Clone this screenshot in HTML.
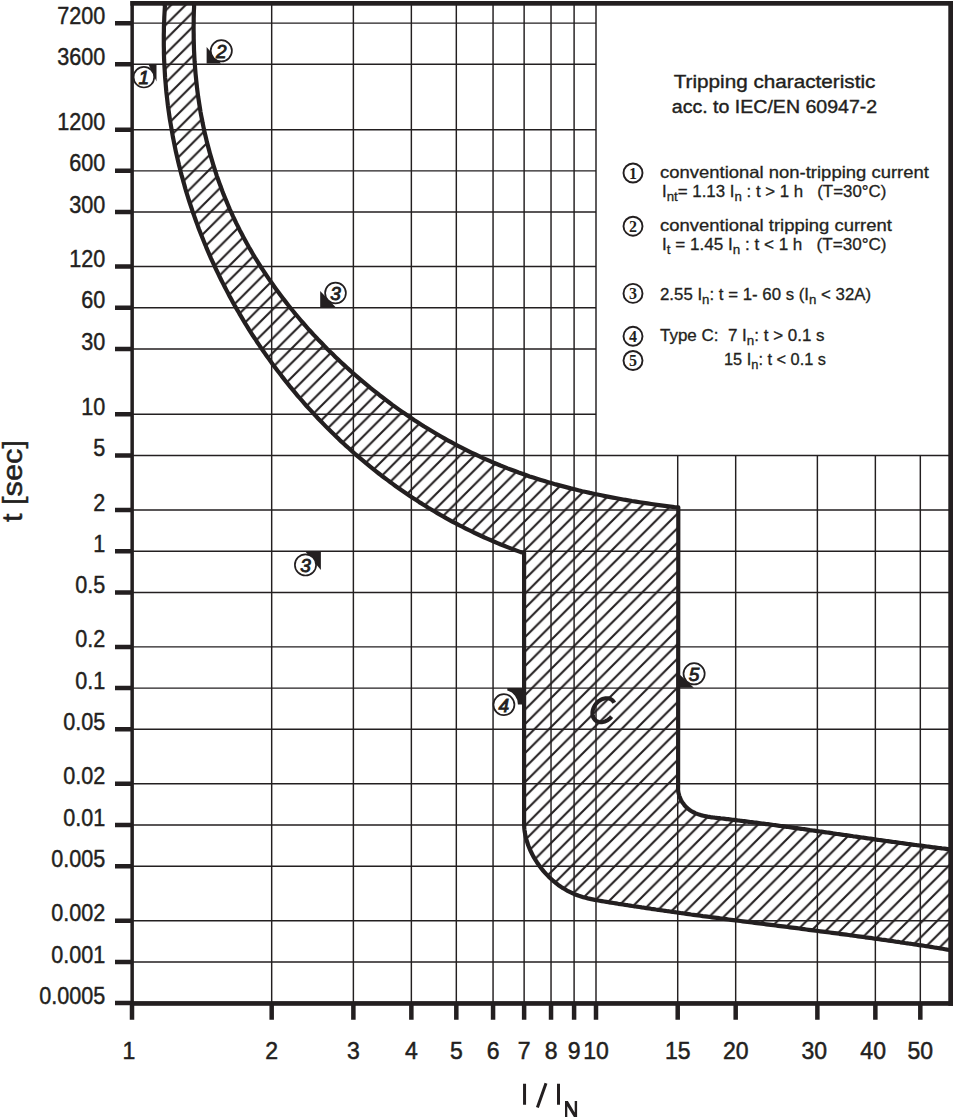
<!DOCTYPE html><html><head><meta charset="utf-8"><style>html,body{margin:0;padding:0;background:#fff;width:953px;height:1117px;overflow:hidden;position:relative}</style></head><body><svg width="953" height="1117" viewBox="0 0 953 1117" style="position:absolute;left:0;top:0">
<defs>
<pattern id="hatch" patternUnits="userSpaceOnUse" width="14.5" height="14.5" patternTransform="translate(2.1 0)">
<path d="M-3.625 3.625 L3.625 -3.625 M0 14.5 L14.5 0 M10.875 18.125 L18.125 10.875" stroke="#231f20" stroke-width="2.1" fill="none"/>
</pattern>
</defs>
<rect x="0" y="0" width="953" height="1117" fill="#fff"/>
<path d="M271.68 3.2 V1003.2 M353.38 3.2 V1003.2 M411.36 3.2 V1003.2 M456.32 3.2 V1003.2 M493.06 3.2 V1003.2 M524.13 3.2 V1003.2 M551.03 3.2 V1003.2 M574.10 3.2 V1003.2 M596.00 3.2 V1003.2 M677.71 455.51 V1003.2 M735.68 455.51 V1003.2 M817.38 455.51 V1003.2 M875.36 455.51 V1003.2 M920.32 455.51 V1003.2 M132.2 23.13 H596.00 M132.2 64.34 H596.00 M132.2 129.66 H596.00 M132.2 170.87 H596.00 M132.2 212.08 H596.00 M132.2 266.56 H596.00 M132.2 307.77 H596.00 M132.2 348.98 H596.00 M132.2 414.30 H596.00 M132.2 455.51 H950.7 M132.2 509.99 H950.7 M132.2 551.20 H950.7 M132.2 592.41 H950.7 M132.2 646.89 H950.7 M132.2 688.10 H950.7 M132.2 729.31 H950.7 M132.2 783.79 H950.7 M132.2 825.00 H950.7 M132.2 866.21 H950.7 M132.2 920.69 H950.7 M132.2 961.90 H950.7" stroke="#231f20" stroke-width="1.45" fill="none"/>
<path d="M164.2 3.0 164.9 6.4 164.7 9.9 164.5 13.5 164.3 17.0 164.2 20.6 164.0 24.2 163.9 27.7 163.9 31.3 163.8 34.8 163.8 38.4 163.8 41.9 163.8 45.5 163.9 49.0 163.9 52.6 164.0 56.1 164.1 59.7 164.3 63.2 164.5 66.8 164.7 70.3 164.9 73.8 165.1 77.4 165.4 80.9 165.7 84.4 166.0 88.0 166.3 91.5 166.7 95.0 167.1 98.5 167.5 102.0 167.9 105.5 168.4 109.1 168.9 112.6 169.4 116.1 169.9 119.6 170.5 123.0 171.1 126.5 171.7 130.0 172.3 133.5 172.9 137.0 173.6 140.4 174.3 143.9 175.0 147.4 175.7 150.8 176.5 154.3 177.3 157.7 178.1 161.2 178.9 164.6 179.8 168.0 180.6 171.5 181.5 174.9 182.5 178.3 183.4 181.7 184.4 185.1 185.3 188.5 186.3 191.9 187.4 195.3 188.4 198.6 189.5 202.0 190.6 205.4 191.7 208.7 192.8 212.1 194.0 215.4 195.2 218.7 196.4 222.1 197.6 225.4 198.8 228.7 200.1 232.0 201.4 235.3 202.7 238.6 204.0 241.8 205.4 245.1 206.7 248.4 208.1 251.6 209.5 254.9 210.9 258.1 212.4 261.3 213.9 264.5 215.3 267.8 216.9 271.0 218.4 274.1 219.9 277.3 221.5 280.5 223.1 283.6 224.7 286.8 226.3 289.9 228.0 293.1 229.6 296.2 231.3 299.3 233.0 302.4 234.7 305.5 236.5 308.6 238.3 311.6 240.0 314.7 241.8 317.7 243.7 320.8 245.5 323.8 247.4 326.8 249.2 329.8 251.1 332.8 253.0 335.8 255.0 338.7 256.9 341.7 258.9 344.6 260.9 347.6 262.9 350.5 264.9 353.4 266.9 356.3 269.0 359.1 271.1 362.0 273.2 364.9 275.3 367.7 277.4 370.5 279.6 373.3 281.7 376.1 283.9 378.9 286.1 381.7 288.3 384.4 290.5 387.2 292.8 389.9 295.1 392.6 297.3 395.3 299.6 398.0 302.0 400.7 304.3 403.4 306.6 406.0 309.0 408.6 311.4 411.2 313.8 413.8 316.2 416.4 318.6 419.0 321.1 421.5 323.6 424.1 326.0 426.6 328.5 429.1 331.0 431.6 333.6 434.1 336.1 436.5 338.7 438.9 341.2 441.4 343.8 443.8 346.4 446.2 349.1 448.5 351.7 450.9 354.3 453.2 357.0 455.6 359.7 457.9 362.4 460.1 365.1 462.4 367.8 464.7 370.5 466.9 373.3 469.1 376.1 471.3 378.8 473.5 381.6 475.7 384.4 477.8 387.3 479.9 390.1 482.0 393.0 484.1 395.8 486.2 398.7 488.2 401.6 490.3 404.5 492.3 407.4 494.3 410.3 496.3 413.3 498.2 416.2 500.1 419.2 502.1 422.2 503.9 425.2 505.8 428.2 507.7 431.2 509.5 434.3 511.3 437.3 513.1 440.4 514.9 443.5 516.6 446.5 518.4 449.6 520.1 452.7 521.8 455.9 523.4 459.0 525.1 462.2 526.7 465.3 528.3 468.5 529.9 471.7 531.4 474.9 533.0 478.1 534.5 481.3 536.0 484.5 537.5 487.7 538.9 491.0 540.3 494.3 541.7 497.5 543.1 500.8 544.5 504.1 545.8 507.4 547.1 510.7 548.4 514.1 549.7 517.4 550.9 520.7 552.1 524.1 552.7 L524.1 824.6 524.2 827.0 524.4 829.4 524.7 831.7 525.1 834.0 525.6 836.2 526.1 838.5 526.8 840.8 527.5 843.0 528.2 845.3 529.1 847.5 530.0 849.6 531.0 851.8 532.1 854.0 533.2 856.1 534.4 858.2 535.6 860.2 536.9 862.2 538.3 864.2 539.7 866.2 541.1 868.1 542.6 870.0 544.2 871.8 545.8 873.6 547.5 875.4 549.1 877.1 550.9 878.7 552.6 880.3 554.5 881.9 556.3 883.4 558.2 884.9 560.1 886.2 562.1 887.6 564.1 888.8 566.1 890.0 568.1 891.2 570.2 892.2 572.3 893.2 574.5 894.2 576.7 895.0 578.9 895.8 581.1 896.5 583.3 897.2 585.6 897.8 587.9 898.4 590.2 898.9 592.5 899.4 594.8 899.9 597.1 900.3 599.5 900.7 601.8 901.1 604.2 901.5 606.5 901.9 608.8 902.3 611.2 902.6 613.5 903.0 615.9 903.4 618.2 903.8 620.6 904.1 622.9 904.5 625.3 904.9 627.6 905.2 630.0 905.6 632.3 906.0 634.7 906.3 637.0 906.7 639.4 907.0 641.7 907.4 644.1 907.7 646.4 908.1 648.8 908.4 651.1 908.8 653.5 909.1 655.8 909.5 658.2 909.8 660.5 910.2 662.9 910.5 665.2 910.8 667.6 911.2 669.9 911.5 672.3 911.8 674.6 912.2 677.0 912.5 679.3 912.8 681.7 913.2 684.0 913.5 686.4 913.8 688.7 914.1 691.1 914.5 693.4 914.8 695.8 915.1 698.1 915.4 700.5 915.7 702.8 916.1 705.2 916.4 707.5 916.7 709.9 917.0 712.2 917.3 714.6 917.6 716.9 917.9 719.3 918.2 721.6 918.6 724.0 918.9 726.3 919.2 728.7 919.5 731.0 919.8 733.4 920.1 735.7 920.4 738.1 920.7 740.5 921.0 742.8 921.3 745.2 921.6 747.5 921.9 749.9 922.2 752.2 922.5 754.6 922.8 756.9 923.1 759.3 923.4 761.6 923.7 764.0 924.0 766.3 924.3 768.7 924.6 771.0 924.9 773.4 925.2 775.7 925.5 778.1 925.8 780.4 926.1 782.8 926.4 785.2 926.7 787.5 927.0 789.9 927.3 792.2 927.6 794.6 927.9 796.9 928.2 799.3 928.5 801.6 928.9 804.0 929.2 806.3 929.5 808.7 929.8 811.0 930.1 813.4 930.4 815.7 930.7 818.1 931.0 820.4 931.3 822.8 931.6 825.1 931.9 827.5 932.2 829.8 932.5 832.2 932.8 834.5 933.1 836.9 933.4 839.3 933.8 841.6 934.1 844.0 934.4 846.3 934.7 848.7 935.0 851.0 935.3 853.4 935.7 855.7 936.0 858.1 936.3 860.4 936.6 862.8 936.9 865.1 937.3 867.5 937.6 869.8 937.9 872.2 938.2 874.5 938.6 876.9 938.9 879.2 939.2 881.6 939.6 883.9 939.9 886.3 940.2 888.6 940.6 891.0 940.9 893.3 941.2 895.6 941.6 898.0 941.9 900.3 942.3 902.7 942.6 905.0 943.0 907.4 943.3 909.7 943.7 912.1 944.0 914.4 944.4 916.8 944.7 919.1 945.1 921.5 945.4 923.8 945.8 926.2 946.2 928.5 946.5 930.9 946.9 933.2 947.3 935.5 947.7 937.9 948.0 940.2 948.4 942.6 948.8 944.9 949.2 947.3 949.6 949.6 949.9 952.0 949.9 L952.0 849.3 950.6 849.4 949.1 849.3 947.7 849.1 946.2 848.9 944.7 848.7 943.2 848.5 941.8 848.4 940.3 848.2 938.8 848.0 937.4 847.8 935.9 847.6 934.4 847.4 933.0 847.3 931.5 847.1 930.0 846.9 928.6 846.7 927.1 846.5 925.7 846.3 924.2 846.1 922.7 845.9 921.3 845.7 919.8 845.5 918.4 845.3 916.9 845.2 915.4 845.0 914.0 844.8 912.5 844.6 911.1 844.4 909.6 844.2 908.2 844.0 906.7 843.8 905.3 843.6 903.8 843.4 902.4 843.2 900.9 843.0 899.5 842.8 898.0 842.6 896.6 842.4 895.1 842.2 893.7 842.0 892.2 841.8 890.8 841.6 889.3 841.4 887.9 841.2 886.4 841.0 885.0 840.8 883.5 840.6 882.1 840.4 880.6 840.2 879.2 840.0 877.7 839.8 876.3 839.6 874.8 839.4 873.4 839.1 871.9 838.9 870.5 838.7 869.1 838.5 867.6 838.3 866.2 838.1 864.7 837.9 863.3 837.7 861.8 837.5 860.4 837.3 859.0 837.1 857.5 836.9 856.1 836.7 854.6 836.5 853.2 836.3 851.7 836.0 850.3 835.8 848.9 835.6 847.4 835.4 846.0 835.2 844.5 835.0 843.1 834.8 841.6 834.6 840.2 834.4 838.8 834.2 837.3 834.0 835.9 833.8 834.4 833.6 833.0 833.4 831.5 833.1 830.1 832.9 828.7 832.7 827.2 832.5 825.8 832.3 824.3 832.1 822.9 831.9 821.4 831.7 820.0 831.5 818.6 831.3 817.1 831.1 815.7 830.9 814.2 830.7 812.8 830.5 811.3 830.3 809.9 830.1 808.4 829.8 807.0 829.6 805.5 829.4 804.1 829.2 802.7 829.0 801.2 828.8 799.8 828.6 798.3 828.4 796.9 828.2 795.4 828.0 794.0 827.8 792.5 827.6 791.1 827.4 789.6 827.2 788.2 827.0 786.7 826.8 785.3 826.6 783.8 826.4 782.4 826.2 780.9 826.0 779.4 825.8 778.0 825.6 776.5 825.4 775.1 825.2 773.6 825.0 772.2 824.8 770.7 824.6 769.3 824.4 767.8 824.2 766.3 824.1 764.9 823.9 763.4 823.7 762.0 823.5 760.5 823.3 759.0 823.1 757.6 822.9 756.1 822.7 754.6 822.5 753.2 822.3 751.7 822.1 750.2 822.0 748.8 821.8 747.3 821.6 745.8 821.4 744.4 821.2 742.9 821.0 741.4 820.8 740.0 820.7 738.5 820.5 737.0 820.3 735.5 820.1 734.1 819.9 732.6 819.8 731.1 819.6 729.6 819.4 728.2 819.2 726.7 819.1 725.2 818.9 723.7 818.7 722.2 818.5 720.7 818.4 719.3 818.2 717.8 818.0 716.3 817.8 714.8 817.7 713.3 817.5 711.9 817.3 710.4 817.1 708.9 816.8 707.5 816.6 706.1 816.3 704.6 816.0 703.2 815.7 701.9 815.4 700.5 815.0 699.1 814.6 697.8 814.1 696.5 813.6 695.2 813.1 694.0 812.5 692.8 811.9 691.6 811.2 690.4 810.4 689.3 809.7 688.2 808.8 687.1 807.9 686.1 806.9 685.1 805.9 684.2 804.8 683.3 803.6 682.4 802.4 681.7 801.2 681.0 799.9 680.3 798.5 679.7 797.1 679.2 795.6 678.8 794.1 678.4 792.5 678.2 790.9 678.0 789.2 678.1 788.0 L678.3 507.3 674.4 507.1 670.5 506.6 666.7 506.1 662.8 505.6 659.0 505.1 655.1 504.5 651.3 504.0 647.4 503.4 643.6 502.8 639.7 502.2 635.9 501.6 632.0 501.0 628.2 500.3 624.3 499.7 620.5 499.0 616.6 498.3 612.8 497.6 609.0 496.9 605.1 496.1 601.3 495.3 597.5 494.5 593.7 493.7 589.8 492.9 586.0 492.0 582.2 491.2 578.4 490.3 574.6 489.3 570.8 488.4 567.0 487.4 563.3 486.4 559.5 485.4 555.7 484.4 552.0 483.3 548.2 482.2 544.5 481.1 540.8 480.0 537.0 478.8 533.3 477.6 529.6 476.4 525.9 475.1 522.3 473.8 518.6 472.5 514.9 471.1 511.3 469.8 507.6 468.4 504.0 466.9 500.4 465.5 496.8 464.0 493.2 462.5 489.6 460.9 486.1 459.4 482.5 457.8 479.0 456.1 475.5 454.5 471.9 452.8 468.4 451.1 465.0 449.4 461.5 447.6 458.0 445.8 454.6 444.0 451.2 442.2 447.7 440.3 444.3 438.4 441.0 436.5 437.6 434.5 434.2 432.5 430.9 430.5 427.6 428.5 424.2 426.5 421.0 424.4 417.7 422.3 414.4 420.2 411.2 418.0 407.9 415.8 404.7 413.6 401.5 411.4 398.3 409.1 395.2 406.9 392.0 404.6 388.9 402.2 385.8 399.9 382.7 397.5 379.6 395.2 376.5 392.7 373.5 390.3 370.4 387.9 367.4 385.4 364.4 382.9 361.4 380.4 358.5 377.9 355.5 375.3 352.6 372.7 349.7 370.1 346.8 367.5 343.9 364.9 341.0 362.2 338.2 359.6 335.4 356.9 332.6 354.1 329.8 351.4 327.0 348.7 324.3 345.9 321.6 343.1 318.8 340.3 316.2 337.4 313.5 334.6 310.9 331.7 308.2 328.8 305.6 325.9 303.1 323.0 300.5 320.0 298.0 317.0 295.5 314.1 293.0 311.0 290.5 308.0 288.1 305.0 285.7 301.9 283.3 298.8 281.0 295.7 278.6 292.6 276.3 289.5 274.0 286.3 271.8 283.1 269.5 279.9 267.3 276.7 265.2 273.5 263.0 270.2 260.9 267.0 258.8 263.7 256.8 260.4 254.7 257.1 252.7 253.7 250.8 250.4 248.8 247.0 246.9 243.6 245.1 240.2 243.2 236.8 241.4 233.3 239.6 229.9 237.9 226.4 236.1 222.9 234.5 219.4 232.8 215.9 231.2 212.3 229.6 208.8 228.1 205.2 226.6 201.6 225.1 198.0 223.6 194.4 222.2 190.8 220.9 187.1 219.5 183.4 218.2 179.8 216.9 176.1 215.7 172.4 214.5 168.7 213.3 164.9 212.2 161.2 211.1 157.4 210.0 153.7 209.0 149.9 208.0 146.1 207.0 142.4 206.1 138.6 205.2 134.8 204.3 130.9 203.5 127.1 202.7 123.3 202.0 119.5 201.2 115.6 200.5 111.8 199.9 107.9 199.3 104.1 198.7 100.2 198.1 96.4 197.6 92.5 197.1 88.6 196.7 84.8 196.3 80.9 195.9 77.0 195.5 73.1 195.2 69.2 194.9 65.4 194.6 61.5 194.4 57.6 194.2 53.7 194.0 49.8 193.9 45.9 193.8 42.0 193.7 38.1 193.7 34.2 193.6 30.3 193.6 26.4 193.7 22.5 193.7 18.6 193.8 14.7 193.9 10.8 194.1 6.9 194.0 3.0 Z" fill="url(#hatch)" stroke="none"/>
<path d="M164.2 3.0 164.9 6.4 164.7 9.9 164.5 13.5 164.3 17.0 164.2 20.6 164.0 24.2 163.9 27.7 163.9 31.3 163.8 34.8 163.8 38.4 163.8 41.9 163.8 45.5 163.9 49.0 163.9 52.6 164.0 56.1 164.1 59.7 164.3 63.2 164.5 66.8 164.7 70.3 164.9 73.8 165.1 77.4 165.4 80.9 165.7 84.4 166.0 88.0 166.3 91.5 166.7 95.0 167.1 98.5 167.5 102.0 167.9 105.5 168.4 109.1 168.9 112.6 169.4 116.1 169.9 119.6 170.5 123.0 171.1 126.5 171.7 130.0 172.3 133.5 172.9 137.0 173.6 140.4 174.3 143.9 175.0 147.4 175.7 150.8 176.5 154.3 177.3 157.7 178.1 161.2 178.9 164.6 179.8 168.0 180.6 171.5 181.5 174.9 182.5 178.3 183.4 181.7 184.4 185.1 185.3 188.5 186.3 191.9 187.4 195.3 188.4 198.6 189.5 202.0 190.6 205.4 191.7 208.7 192.8 212.1 194.0 215.4 195.2 218.7 196.4 222.1 197.6 225.4 198.8 228.7 200.1 232.0 201.4 235.3 202.7 238.6 204.0 241.8 205.4 245.1 206.7 248.4 208.1 251.6 209.5 254.9 210.9 258.1 212.4 261.3 213.9 264.5 215.3 267.8 216.9 271.0 218.4 274.1 219.9 277.3 221.5 280.5 223.1 283.6 224.7 286.8 226.3 289.9 228.0 293.1 229.6 296.2 231.3 299.3 233.0 302.4 234.7 305.5 236.5 308.6 238.3 311.6 240.0 314.7 241.8 317.7 243.7 320.8 245.5 323.8 247.4 326.8 249.2 329.8 251.1 332.8 253.0 335.8 255.0 338.7 256.9 341.7 258.9 344.6 260.9 347.6 262.9 350.5 264.9 353.4 266.9 356.3 269.0 359.1 271.1 362.0 273.2 364.9 275.3 367.7 277.4 370.5 279.6 373.3 281.7 376.1 283.9 378.9 286.1 381.7 288.3 384.4 290.5 387.2 292.8 389.9 295.1 392.6 297.3 395.3 299.6 398.0 302.0 400.7 304.3 403.4 306.6 406.0 309.0 408.6 311.4 411.2 313.8 413.8 316.2 416.4 318.6 419.0 321.1 421.5 323.6 424.1 326.0 426.6 328.5 429.1 331.0 431.6 333.6 434.1 336.1 436.5 338.7 438.9 341.2 441.4 343.8 443.8 346.4 446.2 349.1 448.5 351.7 450.9 354.3 453.2 357.0 455.6 359.7 457.9 362.4 460.1 365.1 462.4 367.8 464.7 370.5 466.9 373.3 469.1 376.1 471.3 378.8 473.5 381.6 475.7 384.4 477.8 387.3 479.9 390.1 482.0 393.0 484.1 395.8 486.2 398.7 488.2 401.6 490.3 404.5 492.3 407.4 494.3 410.3 496.3 413.3 498.2 416.2 500.1 419.2 502.1 422.2 503.9 425.2 505.8 428.2 507.7 431.2 509.5 434.3 511.3 437.3 513.1 440.4 514.9 443.5 516.6 446.5 518.4 449.6 520.1 452.7 521.8 455.9 523.4 459.0 525.1 462.2 526.7 465.3 528.3 468.5 529.9 471.7 531.4 474.9 533.0 478.1 534.5 481.3 536.0 484.5 537.5 487.7 538.9 491.0 540.3 494.3 541.7 497.5 543.1 500.8 544.5 504.1 545.8 507.4 547.1 510.7 548.4 514.1 549.7 517.4 550.9 520.7 552.1 524.1 552.7 L524.1 824.6 524.2 827.0 524.4 829.4 524.7 831.7 525.1 834.0 525.6 836.2 526.1 838.5 526.8 840.8 527.5 843.0 528.2 845.3 529.1 847.5 530.0 849.6 531.0 851.8 532.1 854.0 533.2 856.1 534.4 858.2 535.6 860.2 536.9 862.2 538.3 864.2 539.7 866.2 541.1 868.1 542.6 870.0 544.2 871.8 545.8 873.6 547.5 875.4 549.1 877.1 550.9 878.7 552.6 880.3 554.5 881.9 556.3 883.4 558.2 884.9 560.1 886.2 562.1 887.6 564.1 888.8 566.1 890.0 568.1 891.2 570.2 892.2 572.3 893.2 574.5 894.2 576.7 895.0 578.9 895.8 581.1 896.5 583.3 897.2 585.6 897.8 587.9 898.4 590.2 898.9 592.5 899.4 594.8 899.9 597.1 900.3 599.5 900.7 601.8 901.1 604.2 901.5 606.5 901.9 608.8 902.3 611.2 902.6 613.5 903.0 615.9 903.4 618.2 903.8 620.6 904.1 622.9 904.5 625.3 904.9 627.6 905.2 630.0 905.6 632.3 906.0 634.7 906.3 637.0 906.7 639.4 907.0 641.7 907.4 644.1 907.7 646.4 908.1 648.8 908.4 651.1 908.8 653.5 909.1 655.8 909.5 658.2 909.8 660.5 910.2 662.9 910.5 665.2 910.8 667.6 911.2 669.9 911.5 672.3 911.8 674.6 912.2 677.0 912.5 679.3 912.8 681.7 913.2 684.0 913.5 686.4 913.8 688.7 914.1 691.1 914.5 693.4 914.8 695.8 915.1 698.1 915.4 700.5 915.7 702.8 916.1 705.2 916.4 707.5 916.7 709.9 917.0 712.2 917.3 714.6 917.6 716.9 917.9 719.3 918.2 721.6 918.6 724.0 918.9 726.3 919.2 728.7 919.5 731.0 919.8 733.4 920.1 735.7 920.4 738.1 920.7 740.5 921.0 742.8 921.3 745.2 921.6 747.5 921.9 749.9 922.2 752.2 922.5 754.6 922.8 756.9 923.1 759.3 923.4 761.6 923.7 764.0 924.0 766.3 924.3 768.7 924.6 771.0 924.9 773.4 925.2 775.7 925.5 778.1 925.8 780.4 926.1 782.8 926.4 785.2 926.7 787.5 927.0 789.9 927.3 792.2 927.6 794.6 927.9 796.9 928.2 799.3 928.5 801.6 928.9 804.0 929.2 806.3 929.5 808.7 929.8 811.0 930.1 813.4 930.4 815.7 930.7 818.1 931.0 820.4 931.3 822.8 931.6 825.1 931.9 827.5 932.2 829.8 932.5 832.2 932.8 834.5 933.1 836.9 933.4 839.3 933.8 841.6 934.1 844.0 934.4 846.3 934.7 848.7 935.0 851.0 935.3 853.4 935.7 855.7 936.0 858.1 936.3 860.4 936.6 862.8 936.9 865.1 937.3 867.5 937.6 869.8 937.9 872.2 938.2 874.5 938.6 876.9 938.9 879.2 939.2 881.6 939.6 883.9 939.9 886.3 940.2 888.6 940.6 891.0 940.9 893.3 941.2 895.6 941.6 898.0 941.9 900.3 942.3 902.7 942.6 905.0 943.0 907.4 943.3 909.7 943.7 912.1 944.0 914.4 944.4 916.8 944.7 919.1 945.1 921.5 945.4 923.8 945.8 926.2 946.2 928.5 946.5 930.9 946.9 933.2 947.3 935.5 947.7 937.9 948.0 940.2 948.4 942.6 948.8 944.9 949.2 947.3 949.6 949.6 949.9 952.0 949.9" fill="none" stroke="#231f20" stroke-width="4.2" stroke-linejoin="round"/>
<path d="M194.0 3.0 194.1 6.9 193.9 10.8 193.8 14.7 193.7 18.6 193.7 22.5 193.6 26.4 193.6 30.3 193.7 34.2 193.7 38.1 193.8 42.0 193.9 45.9 194.0 49.8 194.2 53.7 194.4 57.6 194.6 61.5 194.9 65.4 195.2 69.2 195.5 73.1 195.9 77.0 196.3 80.9 196.7 84.8 197.1 88.6 197.6 92.5 198.1 96.4 198.7 100.2 199.3 104.1 199.9 107.9 200.5 111.8 201.2 115.6 202.0 119.5 202.7 123.3 203.5 127.1 204.3 130.9 205.2 134.8 206.1 138.6 207.0 142.4 208.0 146.1 209.0 149.9 210.0 153.7 211.1 157.4 212.2 161.2 213.3 164.9 214.5 168.7 215.7 172.4 216.9 176.1 218.2 179.8 219.5 183.4 220.9 187.1 222.2 190.8 223.6 194.4 225.1 198.0 226.6 201.6 228.1 205.2 229.6 208.8 231.2 212.3 232.8 215.9 234.5 219.4 236.1 222.9 237.9 226.4 239.6 229.9 241.4 233.3 243.2 236.8 245.1 240.2 246.9 243.6 248.8 247.0 250.8 250.4 252.7 253.7 254.7 257.1 256.8 260.4 258.8 263.7 260.9 267.0 263.0 270.2 265.2 273.5 267.3 276.7 269.5 279.9 271.8 283.1 274.0 286.3 276.3 289.5 278.6 292.6 281.0 295.7 283.3 298.8 285.7 301.9 288.1 305.0 290.5 308.0 293.0 311.0 295.5 314.1 298.0 317.0 300.5 320.0 303.1 323.0 305.6 325.9 308.2 328.8 310.9 331.7 313.5 334.6 316.2 337.4 318.8 340.3 321.6 343.1 324.3 345.9 327.0 348.7 329.8 351.4 332.6 354.1 335.4 356.9 338.2 359.6 341.0 362.2 343.9 364.9 346.8 367.5 349.7 370.1 352.6 372.7 355.5 375.3 358.5 377.9 361.4 380.4 364.4 382.9 367.4 385.4 370.4 387.9 373.5 390.3 376.5 392.7 379.6 395.2 382.7 397.5 385.8 399.9 388.9 402.2 392.0 404.6 395.2 406.9 398.3 409.1 401.5 411.4 404.7 413.6 407.9 415.8 411.2 418.0 414.4 420.2 417.7 422.3 421.0 424.4 424.2 426.5 427.6 428.5 430.9 430.5 434.2 432.5 437.6 434.5 441.0 436.5 444.3 438.4 447.7 440.3 451.2 442.2 454.6 444.0 458.0 445.8 461.5 447.6 465.0 449.4 468.4 451.1 471.9 452.8 475.5 454.5 479.0 456.1 482.5 457.8 486.1 459.4 489.6 460.9 493.2 462.5 496.8 464.0 500.4 465.5 504.0 466.9 507.6 468.4 511.3 469.8 514.9 471.1 518.6 472.5 522.3 473.8 525.9 475.1 529.6 476.4 533.3 477.6 537.0 478.8 540.8 480.0 544.5 481.1 548.2 482.2 552.0 483.3 555.7 484.4 559.5 485.4 563.3 486.4 567.0 487.4 570.8 488.4 574.6 489.3 578.4 490.3 582.2 491.2 586.0 492.0 589.8 492.9 593.7 493.7 597.5 494.5 601.3 495.3 605.1 496.1 609.0 496.9 612.8 497.6 616.6 498.3 620.5 499.0 624.3 499.7 628.2 500.3 632.0 501.0 635.9 501.6 639.7 502.2 643.6 502.8 647.4 503.4 651.3 504.0 655.1 504.5 659.0 505.1 662.8 505.6 666.7 506.1 670.5 506.6 674.4 507.1 678.3 507.3 L678.1 788.0 678.0 789.2 678.2 790.9 678.4 792.5 678.8 794.1 679.2 795.6 679.7 797.1 680.3 798.5 681.0 799.9 681.7 801.2 682.4 802.4 683.3 803.6 684.2 804.8 685.1 805.9 686.1 806.9 687.1 807.9 688.2 808.8 689.3 809.7 690.4 810.4 691.6 811.2 692.8 811.9 694.0 812.5 695.2 813.1 696.5 813.6 697.8 814.1 699.1 814.6 700.5 815.0 701.9 815.4 703.2 815.7 704.6 816.0 706.1 816.3 707.5 816.6 708.9 816.8 710.4 817.1 711.9 817.3 713.3 817.5 714.8 817.7 716.3 817.8 717.8 818.0 719.3 818.2 720.7 818.4 722.2 818.5 723.7 818.7 725.2 818.9 726.7 819.1 728.2 819.2 729.6 819.4 731.1 819.6 732.6 819.8 734.1 819.9 735.5 820.1 737.0 820.3 738.5 820.5 740.0 820.7 741.4 820.8 742.9 821.0 744.4 821.2 745.8 821.4 747.3 821.6 748.8 821.8 750.2 822.0 751.7 822.1 753.2 822.3 754.6 822.5 756.1 822.7 757.6 822.9 759.0 823.1 760.5 823.3 762.0 823.5 763.4 823.7 764.9 823.9 766.3 824.1 767.8 824.2 769.3 824.4 770.7 824.6 772.2 824.8 773.6 825.0 775.1 825.2 776.5 825.4 778.0 825.6 779.4 825.8 780.9 826.0 782.4 826.2 783.8 826.4 785.3 826.6 786.7 826.8 788.2 827.0 789.6 827.2 791.1 827.4 792.5 827.6 794.0 827.8 795.4 828.0 796.9 828.2 798.3 828.4 799.8 828.6 801.2 828.8 802.7 829.0 804.1 829.2 805.5 829.4 807.0 829.6 808.4 829.8 809.9 830.1 811.3 830.3 812.8 830.5 814.2 830.7 815.7 830.9 817.1 831.1 818.6 831.3 820.0 831.5 821.4 831.7 822.9 831.9 824.3 832.1 825.8 832.3 827.2 832.5 828.7 832.7 830.1 832.9 831.5 833.1 833.0 833.4 834.4 833.6 835.9 833.8 837.3 834.0 838.8 834.2 840.2 834.4 841.6 834.6 843.1 834.8 844.5 835.0 846.0 835.2 847.4 835.4 848.9 835.6 850.3 835.8 851.7 836.0 853.2 836.3 854.6 836.5 856.1 836.7 857.5 836.9 859.0 837.1 860.4 837.3 861.8 837.5 863.3 837.7 864.7 837.9 866.2 838.1 867.6 838.3 869.1 838.5 870.5 838.7 871.9 838.9 873.4 839.1 874.8 839.4 876.3 839.6 877.7 839.8 879.2 840.0 880.6 840.2 882.1 840.4 883.5 840.6 885.0 840.8 886.4 841.0 887.9 841.2 889.3 841.4 890.8 841.6 892.2 841.8 893.7 842.0 895.1 842.2 896.6 842.4 898.0 842.6 899.5 842.8 900.9 843.0 902.4 843.2 903.8 843.4 905.3 843.6 906.7 843.8 908.2 844.0 909.6 844.2 911.1 844.4 912.5 844.6 914.0 844.8 915.4 845.0 916.9 845.2 918.4 845.3 919.8 845.5 921.3 845.7 922.7 845.9 924.2 846.1 925.7 846.3 927.1 846.5 928.6 846.7 930.0 846.9 931.5 847.1 933.0 847.3 934.4 847.4 935.9 847.6 937.4 847.8 938.8 848.0 940.3 848.2 941.8 848.4 943.2 848.5 944.7 848.7 946.2 848.9 947.7 849.1 949.1 849.3 950.6 849.4 952.0 849.3" fill="none" stroke="#231f20" stroke-width="4.2" stroke-linejoin="round"/>
<rect x="130.4" y="1.0" width="822.6" height="4.7" fill="#231f20"/><rect x="130.4" y="1.0" width="3.5" height="1004.8" fill="#231f20"/><rect x="948.3" y="1.0" width="4.7" height="1004.8" fill="#231f20"/><rect x="130.4" y="1001.1" width="822.6" height="4.7" fill="#231f20"/>
<path d="M115 23.13 H132.2 M115 64.34 H132.2 M115 129.66 H132.2 M115 170.87 H132.2 M115 212.08 H132.2 M115 266.56 H132.2 M115 307.77 H132.2 M115 348.98 H132.2 M115 414.30 H132.2 M115 455.51 H132.2 M115 509.99 H132.2 M115 551.20 H132.2 M115 592.41 H132.2 M115 646.89 H132.2 M115 688.10 H132.2 M115 729.31 H132.2 M115 783.79 H132.2 M115 825.00 H132.2 M115 866.21 H132.2 M115 920.69 H132.2 M115 961.90 H132.2 M115 1003.11 H132.2 M132.00 1003.2 V1019.8 M271.68 1003.2 V1019.8 M353.38 1003.2 V1019.8 M411.36 1003.2 V1019.8 M456.32 1003.2 V1019.8 M493.06 1003.2 V1019.8 M524.13 1003.2 V1019.8 M551.03 1003.2 V1019.8 M574.10 1003.2 V1019.8 M596.00 1003.2 V1019.8 M677.71 1003.2 V1019.8 M735.68 1003.2 V1019.8 M817.38 1003.2 V1019.8 M875.36 1003.2 V1019.8 M920.32 1003.2 V1019.8" stroke="#231f20" stroke-width="4.5" fill="none"/>
<g font-family="Liberation Sans, sans-serif" font-size="23.5" fill="#231f20" stroke="#231f20" stroke-width="0.45"><text transform="translate(105.3 23.73) scale(0.92 1)" text-anchor="end">7200</text><text transform="translate(105.3 64.94) scale(0.92 1)" text-anchor="end">3600</text><text transform="translate(105.3 130.26) scale(0.92 1)" text-anchor="end">1200</text><text transform="translate(105.3 171.47) scale(0.92 1)" text-anchor="end">600</text><text transform="translate(105.3 212.68) scale(0.92 1)" text-anchor="end">300</text><text transform="translate(105.3 267.16) scale(0.92 1)" text-anchor="end">120</text><text transform="translate(105.3 308.37) scale(0.92 1)" text-anchor="end">60</text><text transform="translate(105.3 349.58) scale(0.92 1)" text-anchor="end">30</text><text transform="translate(105.3 414.90) scale(0.92 1)" text-anchor="end">10</text><text transform="translate(105.3 456.11) scale(0.92 1)" text-anchor="end">5</text><text transform="translate(105.3 510.59) scale(0.92 1)" text-anchor="end">2</text><text transform="translate(105.3 551.80) scale(0.92 1)" text-anchor="end">1</text><text transform="translate(105.3 593.01) scale(0.92 1)" text-anchor="end">0.5</text><text transform="translate(105.3 647.49) scale(0.92 1)" text-anchor="end">0.2</text><text transform="translate(105.3 688.70) scale(0.92 1)" text-anchor="end">0.1</text><text transform="translate(105.3 729.91) scale(0.92 1)" text-anchor="end">0.05</text><text transform="translate(105.3 784.39) scale(0.92 1)" text-anchor="end">0.02</text><text transform="translate(105.3 825.60) scale(0.92 1)" text-anchor="end">0.01</text><text transform="translate(105.3 866.81) scale(0.92 1)" text-anchor="end">0.005</text><text transform="translate(105.3 921.29) scale(0.92 1)" text-anchor="end">0.002</text><text transform="translate(105.3 962.50) scale(0.92 1)" text-anchor="end">0.001</text><text transform="translate(105.3 1003.71) scale(0.92 1)" text-anchor="end">0.0005</text></g>
<g font-family="Liberation Sans, sans-serif" font-size="23" fill="#231f20" stroke="#231f20" stroke-width="0.5"><text x="129.00" y="1058.6" text-anchor="middle">1</text><text x="271.68" y="1058.6" text-anchor="middle">2</text><text x="353.38" y="1058.6" text-anchor="middle">3</text><text x="411.36" y="1058.6" text-anchor="middle">4</text><text x="456.32" y="1058.6" text-anchor="middle">5</text><text x="493.06" y="1058.6" text-anchor="middle">6</text><text x="524.13" y="1058.6" text-anchor="middle">7</text><text x="551.03" y="1058.6" text-anchor="middle">8</text><text x="574.10" y="1058.6" text-anchor="middle">9</text><text x="596.00" y="1058.6" text-anchor="middle">10</text><text x="677.71" y="1058.6" text-anchor="middle">15</text><text x="735.68" y="1058.6" text-anchor="middle">20</text><text x="814.18" y="1058.6" text-anchor="middle">30</text><text x="873.16" y="1058.6" text-anchor="middle">40</text><text x="920.32" y="1058.6" text-anchor="middle">50</text></g>
<text transform="translate(22 522) rotate(-90)" font-family="Liberation Sans, sans-serif" font-size="28" fill="#231f20" stroke="#231f20" stroke-width="0.5" textLength="82" lengthAdjust="spacingAndGlyphs">t [sec]</text>
<path d="M524.55 1083.8 V1104.8 M546 1083.2 L537.4 1107.6 M558.5 1083.8 V1104.8 " fill="none" stroke="#231f20" stroke-width="3"/><path d="M565 1118 V1101.1 H567.9 L574.7 1112.6 V1101.1 H577.1 V1118 H574.5 L567.3 1106.2 V1118 Z" fill="#231f20"/>
<path d="M148.3 64 H156.5 V81.6 Z" fill="#231f20"/><circle cx="143.9" cy="77.2" r="10.3" fill="#fff" stroke="#231f20" stroke-width="1.7"/><text x="143.9" y="84.2" text-anchor="middle" font-family="Liberation Sans, sans-serif" font-style="italic" font-size="19" fill="#231f20" stroke="#231f20" stroke-width="0.9">1</text>
<path d="M206.6 47 V63.6 H221 Z" fill="#231f20"/><circle cx="221.3" cy="50.8" r="10.6" fill="#fff" stroke="#231f20" stroke-width="1.7"/><text x="221.3" y="57.8" text-anchor="middle" font-family="Liberation Sans, sans-serif" font-style="italic" font-size="19" fill="#231f20" stroke="#231f20" stroke-width="0.9">2</text>
<path d="M320.2 291 V307.3 H335.7 Z" fill="#231f20"/><circle cx="335.5" cy="293" r="10.4" fill="#fff" stroke="#231f20" stroke-width="1.7"/><text x="335.5" y="300" text-anchor="middle" font-family="Liberation Sans, sans-serif" font-style="italic" font-size="19" fill="#231f20" stroke="#231f20" stroke-width="0.9">3</text>
<path d="M304.9 551 H320.9 V569.9 Z" fill="#231f20"/><circle cx="305.5" cy="564.9" r="10.6" fill="#fff" stroke="#231f20" stroke-width="1.7"/><text x="305.5" y="571.9" text-anchor="middle" font-family="Liberation Sans, sans-serif" font-style="italic" font-size="19" fill="#231f20" stroke="#231f20" stroke-width="0.9">3</text>
<path d="M507.3 688 H522.3 V704.4 H517.9 A14 14 0 0 0 507.3 690.6 Z" fill="#231f20"/><circle cx="503.9" cy="704.7" r="10.5" fill="#fff" stroke="#231f20" stroke-width="1.7"/><text x="503.9" y="711.7" text-anchor="middle" font-family="Liberation Sans, sans-serif" font-style="italic" font-size="19" fill="#231f20" stroke="#231f20" stroke-width="0.9">4</text>
<path d="M678 673.1 V687.8 H693.9 Z" fill="#231f20"/><circle cx="694.1" cy="673.8" r="10.6" fill="#fff" stroke="#231f20" stroke-width="1.7"/><text x="694.1" y="680.8" text-anchor="middle" font-family="Liberation Sans, sans-serif" font-style="italic" font-size="19" fill="#231f20" stroke="#231f20" stroke-width="0.9">5</text>
<path d="M614.24 702.81 L613.82 702.04 L613.34 701.33 L612.78 700.68 L612.16 700.10 L611.48 699.59 L610.75 699.15 L609.97 698.80 L609.14 698.52 L608.27 698.33 L607.38 698.22 L606.46 698.20 L605.51 698.27 L604.56 698.41 L603.60 698.65 L602.65 698.96 L601.70 699.35 L600.76 699.83 L599.85 700.37 L598.97 700.99 L598.12 701.67 L597.31 702.41 L596.54 703.20 L595.83 704.05 L595.18 704.94 L594.58 705.87 L594.05 706.83 L593.60 707.81 L593.21 708.81 L592.90 709.82 L592.66 710.83 L592.51 711.84 L592.44 712.83 L592.44 713.81 L592.53 714.76 L592.70 715.68 L592.95 716.56 L593.27 717.39 L593.67 718.18 L594.14 718.90 L594.68 719.57 L595.28 720.17 L595.95 720.70 L596.67 721.15 L597.44 721.52 L598.26 721.82 L599.11 722.03 L600.00 722.16 L600.92 722.20 L601.86 722.16 L602.81 722.03 L603.77 721.82 L604.72 721.52 L605.68 721.15 L606.61 720.70 L607.53 720.17 L608.42 719.57 L609.28 718.90 L610.10 718.18 L610.88 717.39 L611.60 716.56" fill="none" stroke="#231f20" stroke-width="4.1"/>
<g font-family="Liberation Sans, sans-serif" font-size="19" fill="#231f20" stroke="#231f20" stroke-width="0.4"><text transform="translate(774.5 88) scale(1.09 1)" text-anchor="middle">Tripping characteristic</text><text transform="translate(774.5 112.6) scale(1.03 1)" text-anchor="middle">acc. to IEC/EN 60947-2</text></g>
<circle cx="633" cy="173" r="9.5" fill="none" stroke="#231f20" stroke-width="1.9"/><text x="633" y="178.6" text-anchor="middle" font-family="Liberation Serif, serif" font-weight="bold" font-size="16" fill="#231f20">1</text>
<circle cx="633" cy="226.2" r="9.5" fill="none" stroke="#231f20" stroke-width="1.9"/><text x="633" y="231.79999999999998" text-anchor="middle" font-family="Liberation Serif, serif" font-weight="bold" font-size="16" fill="#231f20">2</text>
<circle cx="633" cy="293.4" r="9.5" fill="none" stroke="#231f20" stroke-width="1.9"/><text x="633" y="299.0" text-anchor="middle" font-family="Liberation Serif, serif" font-weight="bold" font-size="16" fill="#231f20">3</text>
<circle cx="633" cy="336.3" r="9.5" fill="none" stroke="#231f20" stroke-width="1.9"/><text x="633" y="341.90000000000003" text-anchor="middle" font-family="Liberation Serif, serif" font-weight="bold" font-size="16" fill="#231f20">4</text>
<circle cx="633" cy="360.5" r="9.5" fill="none" stroke="#231f20" stroke-width="1.9"/><text x="633" y="366.1" text-anchor="middle" font-family="Liberation Serif, serif" font-weight="bold" font-size="16" fill="#231f20">5</text>
<g font-family="Liberation Sans, sans-serif" font-size="16.5" fill="#231f20" stroke="#231f20" stroke-width="0.3"><text transform="translate(660 177.7) scale(1.12 1)" text-anchor="start">conventional non-tripping current</text><text transform="translate(662 196.7) scale(1.022 1)" text-anchor="start">I<tspan font-size="13" dy="4">nt</tspan><tspan dy="-4">= 1.13 I</tspan><tspan font-size="13" dy="4">n</tspan><tspan dy="-4"> : t &gt; 1 h &#160;&#160;(T=30°C)</tspan></text><text transform="translate(660 231.4) scale(1.12 1)" text-anchor="start">conventional tripping current</text><text transform="translate(662 250.4) scale(1.036 1)" text-anchor="start">I<tspan font-size="13" dy="4">t</tspan><tspan dy="-4"> = 1.45 I</tspan><tspan font-size="13" dy="4">n</tspan><tspan dy="-4"> : t &lt; 1 h &#160;&#160;(T=30°C)</tspan></text><text transform="translate(660 299.5) scale(1.02 1)" text-anchor="start">2.55 I<tspan font-size="13" dy="4">n</tspan><tspan dy="-4">: t = 1- 60 s (I</tspan><tspan font-size="13" dy="4">n</tspan><tspan dy="-4"> &lt; 32A)</tspan></text><text transform="translate(660 340.6) scale(1.03 1)" text-anchor="start">Type C: &#160;7 I<tspan font-size="13" dy="4">n</tspan><tspan dy="-4">: t &gt; 0.1 s</tspan></text><text transform="translate(724 365) scale(0.99 1)" text-anchor="start">15 I<tspan font-size="13" dy="4">n</tspan><tspan dy="-4">: t &lt; 0.1 s</tspan></text></g>
</svg></body></html>
